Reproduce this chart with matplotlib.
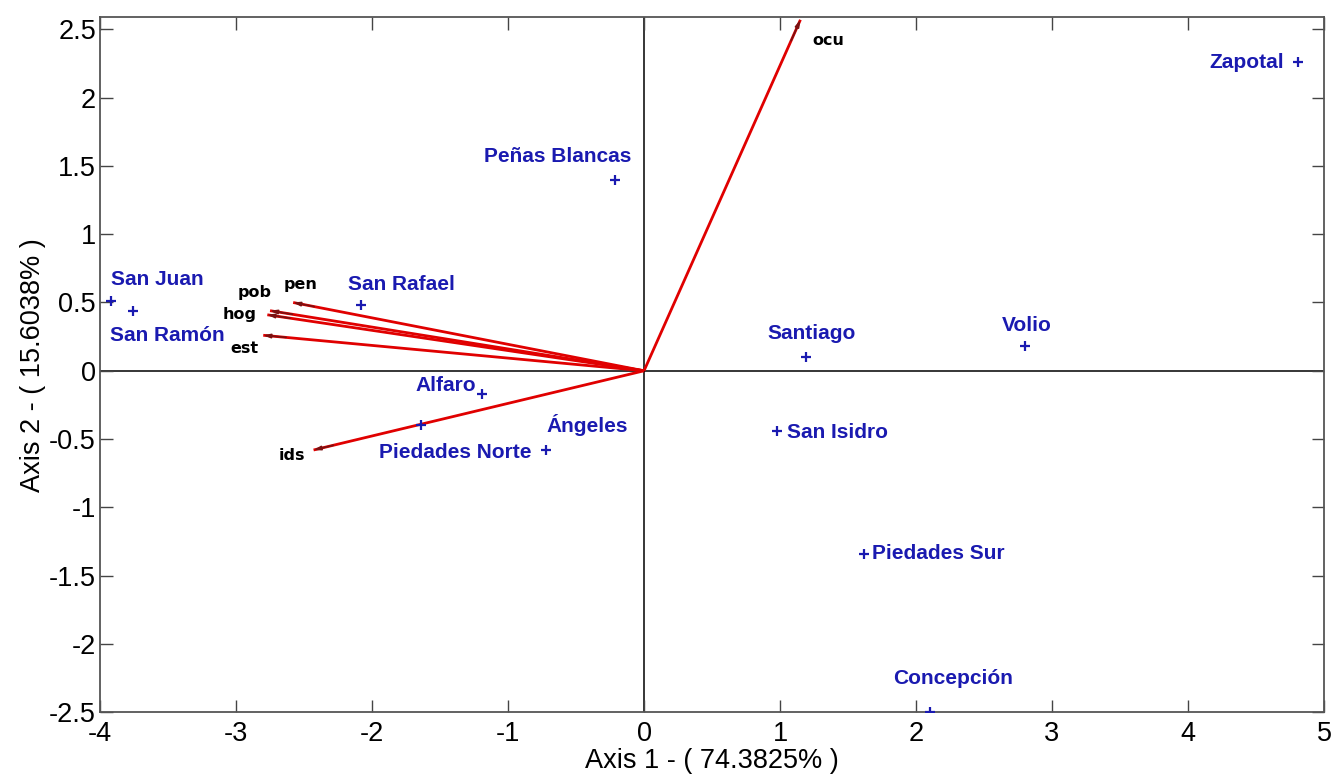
import matplotlib
matplotlib.use("Agg")
import matplotlib.pyplot as plt

# Observations (districts)
districts = ["Zapotal", "Peñas Blancas", "San Juan", "San Ramón", "San Rafael",
             "Santiago", "Volio", "Alfaro", "Piedades Norte", "Ángeles",
             "San Isidro", "Piedades Sur", "Concepción"]
dist_x = [4.81, -0.21, -3.92, -3.76, -2.08, 1.19, 2.80, -1.19, -1.64, -0.72, 0.98, 1.62, 2.10]
dist_y = [2.26, 1.40, 0.51, 0.44, 0.48, 0.10, 0.18, -0.17, -0.40, -0.58, -0.44, -1.34, -2.50]
# label anchor (left edge, vertical centre)
dlab_x = [4.16, -1.18, -3.92, -3.93, -2.18, 0.91, 2.63, -1.68, -1.95, -0.72, 1.05, 1.68, 1.83]
dlab_y = [2.26, 1.57, 0.67, 0.26, 0.63, 0.27, 0.33, -0.11, -0.60, -0.40, -0.45, -1.34, -2.25]

# Variables (arrows)
variables = ["ocu", "pen", "pob", "hog", "est", "ids"]
var_x = [1.15, -2.58, -2.75, -2.77, -2.80, -2.43]
var_y = [2.57, 0.50, 0.44, 0.41, 0.26, -0.58]
vlab_x = [1.24, -2.65, -2.99, -3.10, -3.04, -2.69]
vlab_y = [2.42, 0.63, 0.57, 0.41, 0.16, -0.62]

xticks = [-4, -3, -2, -1, 0, 1, 2, 3, 4, 5]
yticks = [-2.5, -2, -1.5, -1, -0.5, 0, 0.5, 1, 1.5, 2, 2.5]

plt.rcParams['font.family'] = ['Liberation Sans', 'DejaVu Sans']

fig = plt.figure(figsize=(13.34, 7.75), dpi=100)
ax = fig.add_axes([0.075, 0.081, 0.9175, 0.897])

ax.axhline(0, color='black', lw=1.1, zorder=1)
ax.axvline(0, color='black', lw=1.1, zorder=1)

red = '#e00000'
for vx, vy in zip(var_x, var_y):
    ax.plot([0, vx], [0, vy], color=red, lw=2.0, solid_capstyle='butt', zorder=3)
    ax.annotate("", xy=(vx, vy), xytext=(0.94 * vx, 0.94 * vy),
                arrowprops=dict(arrowstyle='-|>,head_length=0.4,head_width=0.12',
                                color='#7a1010', lw=1.2, shrinkA=0, shrinkB=0),
                zorder=4)
for name, lx, ly in zip(variables, vlab_x, vlab_y):
    ax.text(lx, ly, name, fontsize=11.5, fontweight='bold', color='black',
            family=['DejaVu Sans'], ha='left', va='center', zorder=4)

blue = '#1a1ab0'
ax.plot(dist_x, dist_y, linestyle='none', marker='+', color=blue,
        markersize=7, markeredgewidth=1.6, zorder=4)
for name, lx, ly in zip(districts, dlab_x, dlab_y):
    ax.text(lx, ly, name, fontsize=15, fontweight='bold', color=blue,
            ha='left', va='center', zorder=4)

ax.set_xlim(-4, 5)
ax.set_ylim(-2.5, 2.59)
ax.set_xticks(xticks)
ax.set_xticklabels([f"{t:g}" for t in xticks])
ax.set_yticks(yticks)
ax.set_yticklabels([f"{t:g}" for t in yticks])
ax.tick_params(direction='in', length=9, width=1, top=True, right=True,
               labelsize=19.5, color='#444444')
ax.tick_params(axis='x', pad=6)
ax.tick_params(axis='y', pad=3)
for s in ax.spines.values():
    s.set_color('#555555')
    s.set_linewidth(1.3)

ax.set_xlabel("Axis 1 - ( 74.3825% )", fontsize=19.5, labelpad=1)
ax.set_ylabel("Axis 2 - ( 15.6038% )", fontsize=19.5, labelpad=2)

fig.savefig("out.png", dpi=100)
